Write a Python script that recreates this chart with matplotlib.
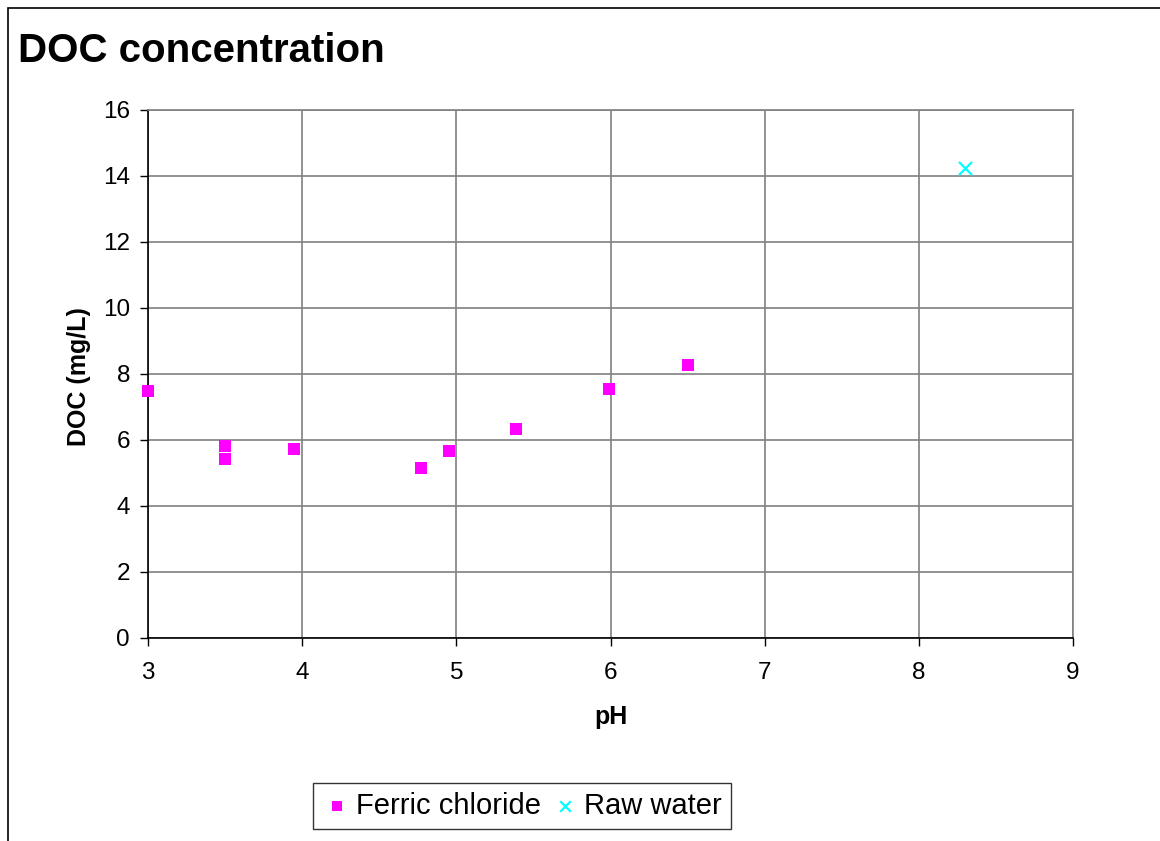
import matplotlib
matplotlib.use("Agg")
import matplotlib.pyplot as plt
from matplotlib.patches import Rectangle

plt.rcParams['font.family'] = ['Liberation Sans', 'DejaVu Sans']

# Ferric chloride coagulation results
ferric_ph = [3.0, 3.5, 3.5, 3.95, 4.77, 4.95, 5.39, 5.99, 6.50]
ferric_doc = [7.48, 5.82, 5.42, 5.73, 5.15, 5.67, 6.33, 7.55, 8.27]

# Untreated raw water
raw_ph = [8.30]
raw_doc = [14.24]

x_ticks = [3, 4, 5, 6, 7, 8, 9]
y_ticks = [0, 2, 4, 6, 8, 10, 12, 14, 16]

fig = plt.figure(figsize=(11.6, 8.41), dpi=100)
fig.patch.set_facecolor('white')
fig.patches.append(Rectangle((8 / 1160, -0.01), 1.02, 1 - 8 / 841 + 0.01,
                             transform=fig.transFigure, fill=False,
                             edgecolor='black', linewidth=1.2))

ax = fig.add_axes([148 / 1160, 1 - 638 / 841, (1073 - 148) / 1160, (638 - 110) / 841])
ax.scatter(ferric_ph, ferric_doc, marker='s', s=80, color='#FF00FF',
           linewidths=0, label='Ferric chloride', zorder=3, clip_on=False)
ax.scatter(raw_ph, raw_doc, marker='x', s=90, color='#00FFFF',
           linewidths=1.6, label='Raw water', zorder=3, clip_on=False)

ax.set_xlim(3, 9)
ax.set_ylim(0, 16)
ax.set_xticks(x_ticks)
ax.set_yticks(y_ticks)
ax.tick_params(axis='both', labelsize=17.5, direction='out', length=6, width=1,
               color='black')
ax.tick_params(axis='x', pad=11)
ax.tick_params(axis='y', pad=7)
ax.grid(True, color='#808080', linewidth=1.2)
ax.set_axisbelow(True)
for side in ('top', 'right'):
    ax.spines[side].set_color('#808080')
    ax.spines[side].set_linewidth(1.2)
for side in ('left', 'bottom'):
    ax.spines[side].set_color('black')
    ax.spines[side].set_linewidth(1.2)

ax.set_xlabel('pH', fontsize=18, fontweight='bold')
ax.set_ylabel('DOC (mg/L)', fontsize=18, fontweight='bold')
ax.xaxis.label.set_va('center')
ax.yaxis.label.set_va('center')
ax.xaxis.set_label_coords(0.5, -(717 - 638) / 528)
ax.yaxis.set_label_coords((79 - 148) / 925, 0.495)

fig.text(18 / 1160, 1 - 62 / 841, 'DOC concentration', fontsize=29,
         fontweight='bold', ha='left', va='baseline')

leg = fig.legend(loc='center', bbox_to_anchor=(522 / 1160, 1 - 806 / 841),
                 ncol=2, fontsize=21, frameon=True, fancybox=False,
                 edgecolor='black', handletextpad=0.15, columnspacing=0.35,
                 borderpad=0.3, handlelength=1.0, markerscale=0.8)
leg.get_frame().set_linewidth(1.0)

fig.savefig('out.png', dpi=100, facecolor='white')
